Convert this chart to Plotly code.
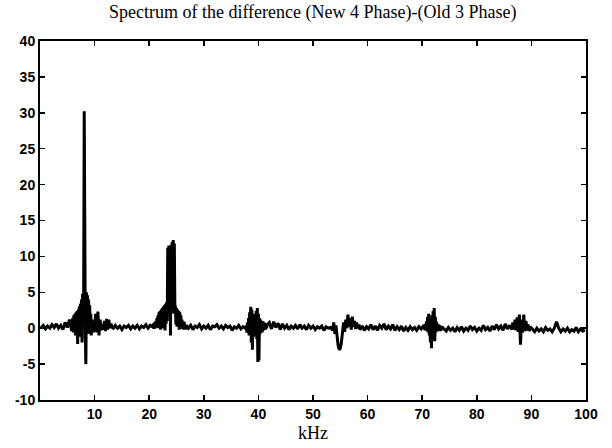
import plotly.graph_objects as go

# Each segment: (start kHz, step kHz, amplitudes)
quiet_a_start, quiet_a_step = 0.2, 0.4
quiet_a = [0.1, 0.4, -0.1, 0.3, 0.0, 0.5, 0.1, 0.6, 0.0, 0.4, -0.2, 0.8, 0.1, 1.2, -0.4]

peak8_start, peak8_step = 6.0, 0.1
peak8 = [1.4, -0.6, 1.8, 0.0, 2.0, -1.0, 2.2, 0.3, 2.4, -2.2,
         2.6, 0.6, 3.0, -1.2, 3.4, 0.5, 4.0, -2.0, 4.8, 1.0,
         5.2, 30.2, 5.5, -1.0, -5.0, 5.0, -0.5, 4.6, 0.0, 4.0,
         -0.8, 3.2, 0.0, 2.0, -1.0, 1.2, -0.4, 0.8, -0.6, 1.0, 0.2]

bumps_start, bumps_step = 10.2, 0.2
bumps = [2.0, -0.6, 2.3, -1.0, 1.2, -0.3, 0.6, -0.2, 1.0, -0.4, 1.3, -0.2, 1.2, 0.0, 0.6]

quiet_b_start, quiet_b_step = 13.4, 0.4
quiet_b = [-0.1, 0.4, 0.0, 0.3, -0.2, 0.3, 0.1, 0.4, -0.1, 0.3,
           0.0, 0.4, -0.1, 0.3, 0.1, 0.5, 0.0, 0.4, 0.2]

peak24_start, peak24_step = 20.8, 0.1
peak24 = [0.6, -0.1, 0.8, 0.0, 1.0, 0.1, 1.4, 0.2, 1.8, 0.0,
          2.2, 0.3, 2.4, -0.2, 2.6, 0.4, 2.8, 0.0, 3.0, 0.5,
          3.2, -0.3, 3.4, 0.6, 3.6, 1.0, 11.2, 2.0, 11.5, 3.0,
          11.4, -1.0, 11.6, 2.5, 12.0, 3.0, 12.3, 2.0, 11.8, 3.2,
          3.0, 0.5, 2.8, 0.2, 2.6, 0.4, 2.4, -0.2, 2.2, 0.3,
          1.8, -0.1, 1.2, 0.2, 0.8, -0.2, 0.9, 0.0, 0.5, -0.2, 0.4]

quiet_c_start, quiet_c_step = 27.2, 0.4
quiet_c = [0.0, 0.4, -0.2, 0.3, 0.1, 0.5, -0.1, 0.3, 0.0, 0.4,
           -0.2, 0.3, 0.2, 0.5, 0.0, 0.3, -0.1, 0.4, 0.1, 0.3,
           -0.3, 0.2, 0.0, 0.4, -0.1, 0.2, 0.0]

peak40_start, peak40_step = 37.8, 0.1
peak40 = [0.3, -0.6, 0.8, -0.4, 1.4, -1.0, 2.2, -0.8, 3.0, -2.0,
          2.6, -3.0, 1.8, -1.2, 2.0, -0.5, 1.2, -1.0, 2.4, -1.5,
          2.8, -4.7, 2.0, -4.5, 1.4, -0.8, 1.2, -0.4, 0.9, -0.6,
          1.0, -0.3, 0.8, -0.2, 0.6, -0.2, 0.7, 0.0, 0.5]

quiet_d_start, quiet_d_step = 42.0, 0.4
quiet_d = [0.8, -0.1, 0.9, 0.1, 0.7, -0.2, 0.6, 0.0, 0.4, -0.2,
           0.3, 0.0, 0.4, -0.1, 0.5, 0.0, 0.3, -0.2, 0.4, 0.0,
           0.3, -0.2, 0.2, 0.0, 0.3, -0.3, 0.2, 0.0, 0.1, -0.3]

peak56_start, peak56_step = 53.8, 0.2
peak56 = [0.8, -0.8, 0.4, -1.6, -2.4, -3.0, -2.8, -2.0, -0.8, 0.8,
          -0.5, 1.2, 0.0, 1.9, 0.2, 1.4, -0.2, 1.6, 0.2, 1.0,
          -0.1, 0.8, 0.0, 0.5, -0.2]

quiet_e_start, quiet_e_step = 59.0, 0.4
quiet_e = [0.3, -0.3, 0.2, -0.1, 0.5, -0.2, 0.3, -0.3, 0.4, 0.0,
           0.6, -0.2, 0.3, -0.1, 0.5, -0.3, 0.2, -0.2, 0.3, -0.4,
           0.1, -0.3, 0.2, -0.2, 0.1, -0.3, 0.2, -0.1, 0.3]

peak72_start, peak72_step = 70.4, 0.1
peak72 = [0.2, -0.3, 0.6, -0.2, 1.0, -0.4, 1.6, -0.6, 2.0, -1.0,
          1.4, -2.0, 1.2, -2.8, 1.8, -1.2, 2.4, -0.8, 2.8, -1.8,
          1.6, -0.6, 0.9, -0.3, 0.6, -0.4, 0.5, -0.3, 0.4, -0.4,
          0.3, -0.3, 0.2]

quiet_f_start, quiet_f_step = 74.0, 0.4
quiet_f = [-0.1, -0.4, 0.1, -0.3, 0.0, -0.5, 0.1, -0.3, 0.2, -0.4,
           0.0, -0.3, 0.3, -0.2, 0.1, -0.4, 0.0, -0.3, 0.4, -0.2,
           0.1, -0.4, 0.3, -0.2, 0.5, -0.1, 0.3, -0.3, 0.6, -0.1,
           0.4, -0.2]

peak88_start, peak88_step = 86.6, 0.2
peak88 = [0.8, -0.2, 1.2, -0.3, 1.5, -0.5, 1.9, -2.3, 1.2, -0.6,
          1.9, -0.4, 1.0, -0.3, 0.5, -0.4, 0.2]

quiet_g_start, quiet_g_step = 90.2, 0.4
quiet_g = [-0.2, -0.5, 0.0, -0.4, -0.1, -0.5, 0.1, -0.3, -0.1, -0.5,
           0.0, 0.9, 0.0, -0.5, -0.1, -0.4, 0.0, -0.5, -0.2, -0.4,
           0.1, -0.5, -0.1, -0.4, -0.2]

x_ticks = [10, 20, 30, 40, 50, 60, 70, 80, 90, 100]
y_ticks = [-10, -5, 0, 5, 10, 15, 20, 25, 30, 35, 40]

segments = [
    (quiet_a_start, quiet_a_step, quiet_a),
    (peak8_start, peak8_step, peak8),
    (bumps_start, bumps_step, bumps),
    (quiet_b_start, quiet_b_step, quiet_b),
    (peak24_start, peak24_step, peak24),
    (quiet_c_start, quiet_c_step, quiet_c),
    (peak40_start, peak40_step, peak40),
    (quiet_d_start, quiet_d_step, quiet_d),
    (peak56_start, peak56_step, peak56),
    (quiet_e_start, quiet_e_step, quiet_e),
    (peak72_start, peak72_step, peak72),
    (quiet_f_start, quiet_f_step, quiet_f),
    (peak88_start, peak88_step, peak88),
    (quiet_g_start, quiet_g_step, quiet_g),
]

freq, amp = [], []
for start, step, vals in segments:
    for i, v in enumerate(vals):
        freq.append(round(start + i * step, 3))
        amp.append(v)

fig = go.Figure()
fig.add_trace(go.Scatter(x=freq, y=amp, mode="lines",
                         line=dict(color="black", width=3),
                         showlegend=False, hoverinfo="skip"))

axis_common = dict(showline=True, linecolor="black", linewidth=2, mirror="ticks",
                   ticks="inside", ticklen=5, tickwidth=1.5, tickcolor="black",
                   showgrid=False, zeroline=False, automargin=False,
                   tickfont=dict(family="Liberation Sans", size=14, color="black",
                                 weight="bold"))

fig.update_xaxes(range=[0, 100], tickvals=x_ticks, ticktext=[str(t) for t in x_ticks],
                 **axis_common)
fig.update_yaxes(range=[-10, 40], tickvals=y_ticks, ticktext=[str(t) for t in y_ticks],
                 ticklabelstandoff=0, **axis_common)

fig.update_layout(
    width=612, height=448,
    margin=dict(l=40, r=26, t=41, b=48, autoexpand=False),
    paper_bgcolor="white", plot_bgcolor="white",
    hovermode=False,
    title=dict(text="Spectrum of the difference (New 4 Phase)-(Old 3 Phase)",
               font=dict(family="Liberation Serif", size=18, color="black"),
               x=0.511, xanchor="center", y=1 - 12 / 448, yanchor="middle",
               yref="container"),
    annotations=[dict(text="kHz", xref="paper", yref="paper", x=0.5, y=0,
                      yanchor="middle", yshift=-33, showarrow=False,
                      font=dict(family="Liberation Serif", size=18, color="black"))],
)

fig.write_html("out.html", config={"displayModeBar": False, "staticPlot": True},
               post_script="document.body.style.margin='0';document.body.style.padding='0';")
